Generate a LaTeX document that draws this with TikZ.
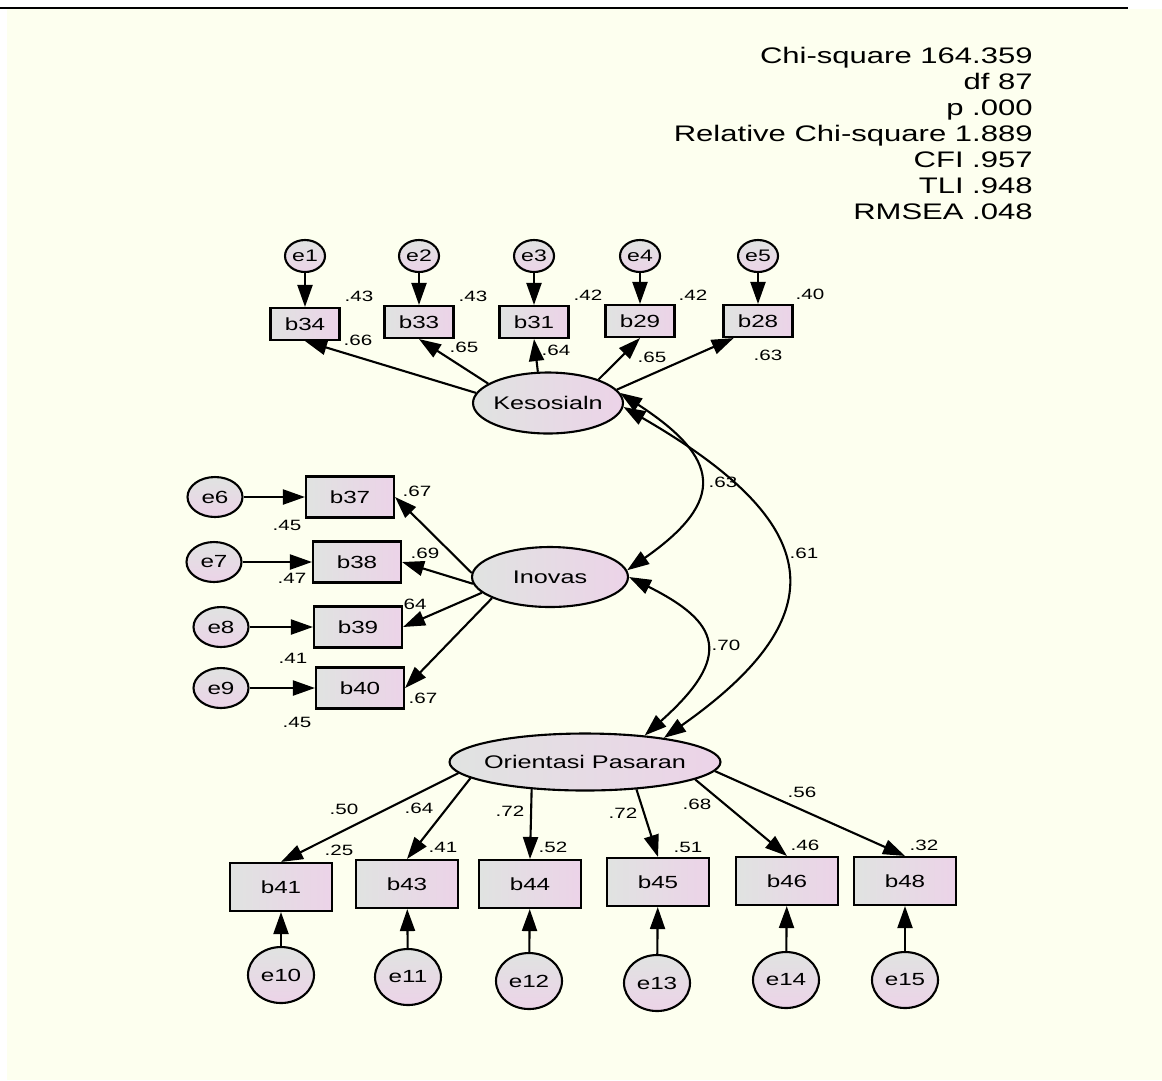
\documentclass[tikz,border=0pt]{standalone}
\usepackage{fontspec}
\newfontfamily\amosfont[FakeStretch=1.38]{Liberation Sans}
\usetikzlibrary{arrows.meta,shapes.geometric}
\definecolor{bgcream}{RGB}{253,255,239}
\definecolor{amosgray}{RGB}{224,227,225}
\definecolor{amospink}{RGB}{236,211,232}
\tikzset{
  amostip/.tip={Triangle[length=0.44cm,width=0.3cm]},
  obs/.style={draw,line width=1.2pt,left color=amosgray,right color=amospink,inner sep=0pt,font=\amosfont\fontsize{10}{12}\selectfont},
  lat/.style={ellipse,draw,line width=1.2pt,left color=amosgray,right color=amospink,inner sep=0pt,inner xsep=-3pt,font=\amosfont\fontsize{10.4}{12}\selectfont},
  err/.style={ellipse,draw,line width=1.2pt,top color=amosgray,bottom color=amospink,inner sep=0pt,font=\amosfont\fontsize{10}{12}\selectfont},
  val/.style={inner sep=0pt,font=\amosfont\fontsize{8.5}{10}\selectfont},
  stats/.style={inner sep=0pt,align=right,font=\amosfont\fontsize{12.8}{14.8}\selectfont},
  load/.style={line width=1.2pt,-amostip},
  cov/.style={line width=1.2pt,amostip-amostip}
}
\begin{document}
\begin{tikzpicture}[x=0.02cm,y=-0.02cm]
\useasboundingbox (0,0) rectangle (1162,1080);
\fill[bgcream] (7,9) rectangle (1162,1080);
\draw[line width=1.2pt] (0,8) -- (1128,8);
\node[stats,anchor=north east] (fit) at (1033,47) {Chi-square 164.359\\df 87\\p .000\\Relative Chi-square 1.889\\CFI .957\\TLI .948\\RMSEA .048};
% latent variables
\node[lat,minimum width=3cm,minimum height=1.22cm] (kes) at (548,403) {Kesosialn};
\node[lat,minimum width=3.12cm,minimum height=1.2cm] (ino) at (550,577) {Inovas};
\node[lat,minimum width=5.42cm,minimum height=1.14cm] (ore) at (585,762) {Orientasi Pasaran};
% Kesosialn items
\foreach \i/\b/\x/\y in {1/34/305/324,2/33/419/322,3/31/534/322,4/29/640/321,5/28/758/321}{
  \node[obs,minimum width=1.38cm,minimum height=0.64cm] (b\b) at (\x,\y) {b\b};
  \node[err,minimum width=0.8cm,minimum height=0.64cm,font=\amosfont\fontsize{9.5}{11}\selectfont] (e\i) at (\x,256) {e\i};
  \draw[load] (e\i) -- (b\b);
}
% Inovas items
\foreach \i/\b/\ex/\x/\y in {6/37/215/350/497,7/38/214/357/562,8/39/221/358/627,9/40/221/360/688}{
  \node[obs,minimum width=1.76cm,minimum height=0.82cm] (b\b) at (\x,\y) {b\b};
  \node[err,minimum width=1.1cm,minimum height=0.8cm] (e\i) at (\ex,\y) {e\i};
  \draw[load] (e\i) -- (b\b);
}
% Orientasi Pasaran items
\foreach \i/\b/\x/\y/\ex/\ey in {10/41/281/887/281/975,11/43/407/884/408/977,12/44/530/884/529/981,13/45/658/882/657/983,14/46/787/881/786/980,15/48/905/881/905/980}{
  \node[obs,minimum width=2.04cm,minimum height=0.96cm] (b\b) at (\x,\y) {b\b};
  \node[err,minimum width=1.32cm,minimum height=1.12cm] (e\i) at (\ex,\ey) {e\i};
  \draw[load] (e\i) -- (b\b);
}
% estimates
\foreach \lab/\x/\y [count=\k] in {.43/359/296,.43/473/296,.42/588/295,.42/693/295,.40/810/294,
  .45/287/525,.47/292/578,.41/293/658,.45/297/722,
  .25/339/850,.41/443/847,.52/553/847,.51/688/847,.46/805/845,.32/924/845}
  \node[val] (r\k) at (\x,\y) {\lab};
\foreach \lab/\x/\y [count=\k] in {.66/358/340,.65/464/347,.64/556/350,.65/652/357,.63/768/355,
  .67/417/491,.69/425/553,64/415/604,.67/423/698,
  .50/344/809,.64/419/808,.72/510/811,.72/623/813,.68/697/804,.56/802/792,
  .63/723/482,.61/804/553,.70/726/645}
  \node[val] (w\k) at (\x,\y) {\lab};
% loadings
\draw[load] (kes.172) -- (b34.south);
\draw[load] (kes.162) -- (b33.south);
\draw[load] (kes.108) -- (b31.south);
\draw[load] (kes.25) -- (b29.south);
\draw[load] (kes.11) -- (b28.215);
\draw[load] (ino.177) -- (b37.east);
\draw[load] (ino.185) -- (b38.east);
\draw[load] (ino.193) -- (b39.east);
\draw[load] (ino.200) -- (b40.east);
\draw[load] (ore.185) -- (b41.north);
\draw[load] (ore.188) -- (b43.north);
\draw[load] (ore.207) -- (b44.north);
\draw[load] (ore.332) -- (b45.north);
\draw[load] (ore.351) -- (b46.north);
\draw[load] (ore.356) -- (b48.north);
% correlations
\draw[cov] (kes.8) .. controls +(100,65) and +(100,-70) .. (ino.5);
\draw[cov] (ino.0) .. controls +(90,45) and +(90,-80) .. (ore.24);
\draw[cov] (kes.-3) .. controls +(190,110) and +(185,-130) .. (ore.17);
\end{tikzpicture}
\end{document}
